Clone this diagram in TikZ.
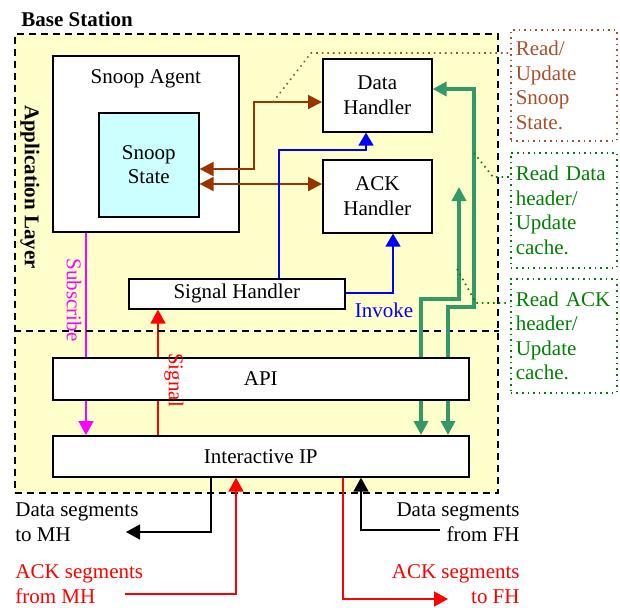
\documentclass[tikz,border=0pt]{standalone}
\usepackage{fontspec}
\setmainfont{Liberation Serif}
\usetikzlibrary{positioning,arrows.meta,backgrounds}
\definecolor{bsyellow}{HTML}{FFFFCC}
\definecolor{statecyan}{HTML}{CCFFFF}
\definecolor{snoopbrown}{HTML}{993300}
\definecolor{notebrown}{HTML}{A9502A}
\definecolor{cachegreen}{HTML}{339966}
\definecolor{notegreen}{HTML}{008000}
\definecolor{submagenta}{RGB}{255,0,255}
\newcommand\bsfont{\fontsize{10.5}{12.3}\selectfont}
\tikzset{
  box/.style    ={rectangle, draw=black, line width=0.8pt, fill=white, align=center,
                  inner sep=2pt, anchor=north west},
  outer/.style  ={rectangle, draw=black, fill=bsyellow, dash pattern=on 3.5pt off 2.5pt,
                  line width=0.8pt, anchor=north west, inner sep=0pt,
                  minimum width=241.5pt, minimum height=229.5pt},
  layerline/.style={dash pattern=on 3.5pt off 2.5pt, line width=0.8pt},
  note/.style   ={rectangle, dotted, line width=0.8pt, align=left, anchor=north west,
                  inner xsep=2.5pt, text width=48pt},
  txt/.style    ={inner sep=1pt, align=left},
  brarr/.style  ={draw=snoopbrown, line width=1pt,
                  {Triangle[length=7pt,width=7pt]}-{Triangle[length=7pt,width=7pt]}},
  bluearr/.style={draw=blue, line width=0.8pt, -{Triangle[length=6.5pt,width=7.5pt]}},
  grnarr/.style ={draw=cachegreen, line width=2pt, -{Triangle[length=7pt,width=7pt]}},
  subarr/.style ={draw=submagenta, line width=0.8pt, -{Triangle[length=7pt,width=7.5pt]}},
  redarr/.style ={draw=red, line width=0.8pt, -{Triangle[length=7pt,width=7.5pt]}},
  blkarr/.style ={draw=black, line width=0.8pt, -{Triangle[length=7pt,width=7.5pt]}},
}

\begin{document}
\begin{tikzpicture}[x=0.5pt, y=-0.5pt, font=\bsfont]
  \useasboundingbox (0,0) rectangle (620,607);

  % base station frame
  \begin{scope}[on background layer]
    \node[outer] (bs) at (14,33) {};
  \end{scope}
  \node[font=\bsfont\bfseries, anchor=west, inner sep=0pt] (bslbl) at (21,19) {Base Station};
  \coordinate (lyr) at (14,331);
  \draw[layerline] (lyr) -- (lyr -| bs.east);
  \node[font=\bsfont\bfseries, rotate=-90] (applbl) at (30,187) {Application Layer};

  % application layer
  \node[box, minimum width=93pt, minimum height=88pt] (agent) at (52,55) {};
  \node[below=4pt of agent.north] (agentlbl) {Snoop Agent};
  \node[box, fill=statecyan, minimum width=50pt, minimum height=52pt] (state) at (98,112) {Snoop\\State};
  \node[box, minimum width=54.5pt, minimum height=36.5pt] (data) at (322,58) {Data\\Handler};
  \node[box, minimum width=54.5pt, minimum height=36.5pt] (ack) at (322,159) {ACK\\Handler};
  \node[box, minimum width=108pt, minimum height=15pt] (sig) at (128,278) {Signal Handler};

  % lower layers
  \node[box, minimum width=208pt, minimum height=21pt] (api) at (52,357) {API};
  \node[box, minimum width=208pt, minimum height=20.5pt] (ip) at (52,435) {Interactive IP};

  % lines that run behind the API box
  \begin{scope}[on background layer]
    \draw[subarr] (agent.south -| 86,0) -- (ip.north -| 86,0);
    \draw[redarr] (ip.north -| 158,0) -- (sig.south -| 158,0);
  \end{scope}
  \node[text=submagenta, rotate=-90, inner sep=0pt] (sublbl) at (74,300) {Subscribe};
  \node[text=red, rotate=-90, inner sep=0pt] (siglbl) at (174,380) {Signal};

  % snoop state access
  \draw[brarr] (state.east |- 0,169) -- (254,169) -- (254,102) -- (data.west |- 0,102);
  \draw[brarr] (state.east |- 0,184) -- (ack.west |- 0,184);

  % invoke
  \draw[bluearr] (sig.north -| 279,0) -- (279,150) -- (366,150) -- (data.south -| 366,0);
  \draw[bluearr] (sig.east |- 0,293) -- (393,293) -- (ack.south -| 393,0);
  \node[text=blue, inner sep=0pt] (invoke) at (384,310) {Invoke};

  % cache paths
  \coordinate (ackend) at (459,187);
  \draw[grnarr] (api.north -| 448,0) -- (448,307) -- (474,307) -- (474,89) -- (data.east |- 0,89);
  \draw[grnarr] (api.north -| 421,0) -- (421,299) -- (459,299) -- (ackend);
  \draw[grnarr] (api.south -| 421,0) -- (ip.north -| 421,0);
  \draw[grnarr] (api.south -| 448,0) -- (ip.north -| 448,0);

  % notes
  \node[note, draw=notebrown, text=notebrown, minimum height=55.5pt] (rss) at (510,29) {Read/\\Update\\Snoop\\State.};
  \node[note, draw=notegreen, text=notegreen, minimum height=57.5pt] (rdh) at (510,152) {Read Data\\header/\\Update\\cache.};
  \node[note, draw=notegreen, text=notegreen, minimum height=57pt] (rah) at (510,278) {Read ACK\\header/\\Update\\cache.};
  \draw[notebrown, dotted, line width=0.8pt] (273,102) -- (311,53) -- (rss.west |- 0,53);
  \draw[notegreen, dotted, line width=0.8pt] (474,153) -- (493,177) -- (rdh.west |- 0,177);
  \draw[notegreen, dotted, line width=0.8pt] (457,269) -- (476,303) -- (rah.west |- 0,303);

  % segments in and out
  \node[txt, anchor=west] (dmh) at (13,522) {Data segments\\to MH};
  \node[txt, anchor=west, text=red] (amh) at (13,584) {ACK segments\\from MH};
  \node[txt, anchor=east, align=right] (dfh) at (522,522) {Data segments\\from FH};
  \node[txt, anchor=east, align=right, text=red] (afh) at (522,584) {ACK segments\\to FH};
  \coordinate (dmhend) at (126,532);
  \coordinate (amhstart) at (125,594);
  \coordinate (dfhstart) at (440,530);
  \coordinate (afhend) at (448,599);
  \draw[blkarr] (ip.south -| 211,0) -- (211,532) -- (dmhend);
  \draw[redarr] (amhstart) -- (236,594) -- (ip.south -| 236,0);
  \draw[blkarr] (dfhstart) -- (361,530) -- (ip.south -| 361,0);
  \draw[redarr] (ip.south -| 343,0) -- (343,599) -- (afhend);
\end{tikzpicture}
\end{document}
